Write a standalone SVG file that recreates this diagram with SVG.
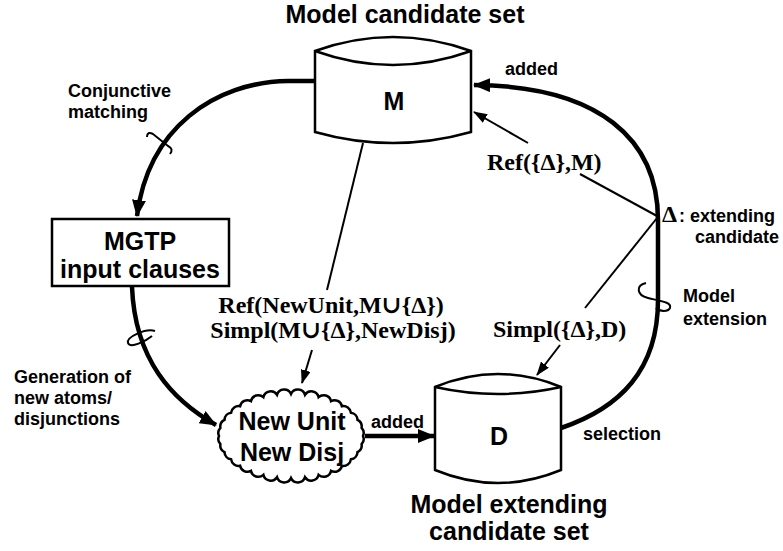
<svg xmlns="http://www.w3.org/2000/svg" width="783" height="551" viewBox="0 0 783 551">
<style>
.sans{font-family:"Liberation Sans",Arial,sans-serif;font-weight:bold;fill:#000}
.serif{font-family:"Liberation Serif","DejaVu Serif",serif;font-weight:bold;fill:#000}
.big{font-size:25px}
.small{font-size:18px}
.ser{font-size:24px}
.shape{fill:#fff;stroke:#000;stroke-width:2.5}
.thick{fill:none;stroke:#000;stroke-width:4.5}
.thin{fill:none;stroke:#000;stroke-width:2}
.curl{fill:none;stroke:#000;stroke-width:2}
</style>
<defs>
<marker id="ah" markerUnits="userSpaceOnUse" markerWidth="18" markerHeight="14" refX="16" refY="7" orient="auto">
<path d="M0,0 L17,7 L0,14 Z" fill="#000"/>
</marker>
<marker id="at" markerUnits="userSpaceOnUse" markerWidth="14" markerHeight="10" refX="13" refY="5" orient="auto">
<path d="M0,0 L14,5 L0,10 Z" fill="#000"/>
</marker>
</defs>
<rect width="783" height="551" fill="#fff"/>

<g id="connectors">
<path class="thick" d="M315 81 L288 81 C215 82 148 128 137 216" marker-end="url(#ah)"/>
<path class="thick" d="M132 287 C135 360 172 400 216 425" marker-end="url(#ah)"/>
<path class="thick" d="M365 436 L434 436" marker-end="url(#ah)"/>
<path class="thick" d="M561 428 C620 408 658 370 658 300 L658 220 C658 140 600 86 474 85" marker-end="url(#ah)"/>
<path class="thin" d="M363 143 L327 290"/>
<path class="thin" d="M312 350 L302 383" marker-end="url(#at)"/>
<path class="thin" d="M657 216 L580 174"/>
<path class="thin" d="M528 143 L474 112" marker-end="url(#at)"/>
<path class="thin" d="M657 218 L585 308"/>
<path class="thin" d="M560 345 L537 375" marker-end="url(#at)"/>
<path class="curl" d="M147 137 Q147 131 153 134 L168 146 Q174 149 170 154"/>
<path class="curl" d="M155 331 C146 328 126 337 128 343 C130 349 146 341 152 336"/>
<path class="curl" d="M646 283 C636 285 636 295 648 298 C660 301 672 302 670 308 C668 312 660 312 656 308"/>
</g>

<g id="node-M">
<path class="shape" d="M315 51 Q393 23 471 51 L471 132 Q393 154 315 132 Z"/>
<path class="shape" fill="none" d="M315 51 Q393 79 471 51"/>
<text class="sans big" x="394" y="110" text-anchor="middle">M</text>
</g>
<text class="sans big" x="405" y="23" text-anchor="middle">Model candidate set</text>

<g id="node-MGTP">
<rect class="shape" x="52" y="219" width="177" height="67"/>
<text class="sans big" x="140" y="250" text-anchor="middle">MGTP</text>
<text class="sans big" x="140" y="278" text-anchor="middle">input clauses</text>
</g>

<g id="node-New">
<path class="shape" d="M363 436 A7.5 7.5 0 0 1 361.6 444.2 A7.5 7.5 0 0 1 357.5 452.1 A7.5 7.5 0 0 1 350.9 459.3 A7.5 7.5 0 0 1 341.9 465.7 A7.5 7.5 0 0 1 331 470.9 A7.5 7.5 0 0 1 318.6 474.8 A7.5 7.5 0 0 1 305 477.2 A7.5 7.5 0 0 1 291 478 A7.5 7.5 0 0 1 277 477.2 A7.5 7.5 0 0 1 263.4 474.8 A7.5 7.5 0 0 1 251 470.9 A7.5 7.5 0 0 1 240.1 465.7 A7.5 7.5 0 0 1 231.1 459.3 A7.5 7.5 0 0 1 224.5 452.1 A7.5 7.5 0 0 1 220.4 444.2 A7.5 7.5 0 0 1 219 436 A7.5 7.5 0 0 1 220.4 427.8 A7.5 7.5 0 0 1 224.5 419.9 A7.5 7.5 0 0 1 231.1 412.7 A7.5 7.5 0 0 1 240.1 406.3 A7.5 7.5 0 0 1 251 401.1 A7.5 7.5 0 0 1 263.4 397.2 A7.5 7.5 0 0 1 277 394.8 A7.5 7.5 0 0 1 291 394 A7.5 7.5 0 0 1 305 394.8 A7.5 7.5 0 0 1 318.6 397.2 A7.5 7.5 0 0 1 331 401.1 A7.5 7.5 0 0 1 341.9 406.3 A7.5 7.5 0 0 1 350.9 412.7 A7.5 7.5 0 0 1 357.5 419.9 A7.5 7.5 0 0 1 361.6 427.8 A7.5 7.5 0 0 1 363 436 Z"/>
<text class="sans big" x="292" y="430" text-anchor="middle">New Unit</text>
<text class="sans big" x="292" y="461" text-anchor="middle">New Disj</text>
</g>

<g id="node-D">
<path class="shape" d="M435 387 Q498 361 561 387 L561 470 Q498 496 435 470 Z"/>
<path class="shape" fill="none" d="M435 387 Q498 401 561 387"/>
<text class="sans big" x="499" y="445" text-anchor="middle">D</text>
</g>
<text class="sans big" x="509" y="513" text-anchor="middle">Model extending</text>
<text class="sans big" x="509" y="540" text-anchor="middle">candidate set</text>

<g id="labels">
<text class="sans small" x="68" y="97">Conjunctive</text>
<text class="sans small" x="68" y="118">matching</text>
<text class="sans small" x="14" y="383">Generation of</text>
<text class="sans small" x="14" y="404">new atoms/</text>
<text class="sans small" x="14" y="425">disjunctions</text>
<text class="sans small" x="505" y="75">added</text>
<text class="sans small" x="371" y="428">added</text>
<text class="sans small" x="583" y="440">selection</text>
<text class="sans small" x="683" y="302">Model</text>
<text class="sans small" x="683" y="325">extension</text>
<text x="662" y="222"><tspan class="serif ser">Δ</tspan><tspan class="sans small" dx="2">: extending</tspan></text>
<text class="sans small" x="779" y="243" text-anchor="end">candidate</text>
<text class="serif ser" x="487" y="170">Ref({Δ},M)</text>
<text class="serif ser" x="493" y="337">Simpl({Δ},D)</text>
<text class="serif ser" x="331" y="313" text-anchor="middle">Ref(NewUnit,M∪{Δ})</text>
<text class="serif ser" x="333" y="338" text-anchor="middle">Simpl(M∪{Δ},NewDisj)</text>
</g>
</svg>
